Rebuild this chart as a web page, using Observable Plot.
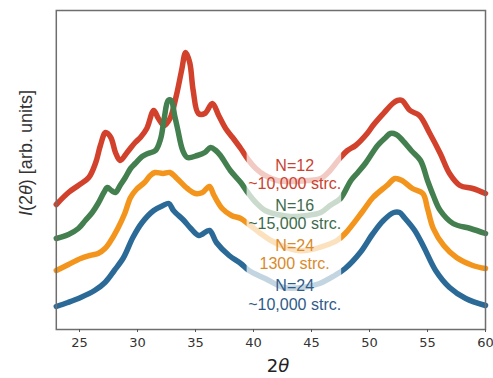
<!DOCTYPE html>
<html><head><meta charset="utf-8">
<script src="https://cdn.jsdelivr.net/npm/d3@7"></script>
<script src="https://cdn.jsdelivr.net/npm/@observablehq/plot@0.6"></script>
<style>body{margin:0;background:#fff}</style>
</head><body><div id="chart"></div>
<script>
// 2θ samples and intensities (arb. units, curves already vertically offset)
const redT = [23,24.05,24.9,25.8,26.4,26.8,27.25,27.7,28.1,28.5,29.1,29.8,30.25,30.8,31.4,31.8,32.3,32.8,33.35,33.8,34.15,34.5,34.8,35.25,35.8,36.45,37,37.6,38.2,38.9,39.6,40.2,41,42.05,43.2,44.6,45.8,46.6,47.5,48.1,48.8,49.8,50.3,51.2,52,52.4,52.8,53.5,54.3,55.2,56.1,56.9,57.8,58.9,60];
const redI = [125,137,144,152,167,184,197,192,177,169,177,187,192,201,219,211,204,211,234,259,277,267,239,216,216,226,214,201,192,181,169,161,154,149,148,149,151,159,172,179,184,196,204,216,226,229,229,219,214,196,176,156,144,141,136];
const greenT = [23,24.05,24.9,25.5,26.1,26.6,27.1,27.4,27.75,28.1,28.5,28.95,29.4,29.8,30.4,30.9,31.55,32,32.3,32.65,32.9,33.2,33.45,33.9,34.3,35.15,35.8,36.3,36.75,37.15,38,38.9,39.5,40.2,41,42.05,43.2,44.6,45.8,46.6,47.5,48.4,49,49.7,50.7,51.4,51.8,52.3,52.7,53.6,54.4,55,55.5,56.1,57.2,58.7,60];
const greenI = [91,95,101,109,117,126,137,142,139,137,144,152,161,166,173,176,179,191,211,229,229,214,201,179,172,174,177,182,179,174,159,147,137,127,119,115,113,114,117,124,131,149,157,167,184,192,196,195,191,179,169,149,134,119,106,101,96];
const orangeT = [23,24.05,25.1,25.9,26.6,27.2,27.6,28.3,28.9,29.4,29.9,30.6,31.1,31.5,32.2,32.8,33.4,34.3,35,35.6,36.2,36.6,37.3,38.1,38.9,39.6,40.5,41.5,42.6,43.8,45,46.2,47.2,47.9,49.4,50.3,51.5,52.2,52.8,53.7,54.6,55,55.5,56.4,57.5,58.9,60];
const orangeI = [59,65,71,74,76,81,87,101,116,132,140,147,154,157,156,157,151,141,136,137,143,134,121,114,111,105,97,89,83,79,80,84,89,96,118,132,144,151,149,141,136,121,101,84,72,64,61];
const blueT = [23,24,25.1,26.3,27.2,28,28.8,29.6,30.4,31.4,32.2,32.7,33.1,34,34.6,35.3,36.2,36.8,37.9,38.9,39.6,41,42.6,44.2,45.7,47,47.9,49.2,50.3,51.2,52.1,52.6,53,53.9,54.7,55.7,56.9,58.3,60];
const blueI = [23,27,32,39,47,59,72,92,107,119,124,126,119,109,101,94,99,87,74,66,59,51,42,42,46,54,61,77,96,109,117,117,112,99,82,59,42,31,24];

const xTicks = [25,30,35,40,45,50,55,60];
const labelLines = ["N=12","~10,000 strc.","N=16","~15,000 strc.","N=24","1300 strc.","N=24","~10,000 strc."];
const labelI = [164,146,124,106,84,66,44,25];
const labelSeries = ["red","red","green","green","orange","orange","blue","blue"];

const lineColor = {red:"#d1412c", green:"#437f4f", orange:"#f3951c", blue:"#2b6a97"};
const textColor = {red:"#c9432f", green:"#3d6b4b", orange:"#d98a2c", blue:"#2f5b88"};

const series = [
  ["red", redT, redI], ["green", greenT, greenI], ["orange", orangeT, orangeI], ["blue", blueT, blueI]
];
const lineData = series.flatMap(([s, T, I]) => T.map((t, i) => ({s, t, v: I[i]})));
const labels = labelLines.map((txt, i) => ({txt, s: labelSeries[i], t: 43.55, v: labelI[i]}));

const W = 493, H = 378;
const plot = Plot.plot({
  width: W, height: H,
  marginLeft: 55.8, marginRight: 8, marginTop: 10, marginBottom: 49,
  style: {fontFamily: "DejaVu Sans, sans-serif", fontSize: "13px", color: "#333", background: "#fff"},
  x: {domain: [23, 60]},
  y: {domain: [0, 319]},
  marks: [
    Plot.line(lineData, {x: "t", y: "v", z: "s", stroke: d => lineColor[d.s], strokeWidth: 5.5, curve: "catmull-rom", strokeLinejoin: "round", strokeLinecap: "round"}),
    Plot.rect([{a: 39.45, b: 47.6}], {x1: "a", x2: "b", fill: "white", fillOpacity: 0.72}),
    Plot.text(labels, {x: "t", y: "v", text: "txt", fill: d => textColor[d.s], fontSize: 16, fontFamily: "Liberation Sans, Arial, sans-serif"}),
    Plot.frame({stroke: "#6e6e6e", strokeWidth: 1.5}),
    Plot.axisX({ticks: xTicks, tickSize: 3, tickPadding: 5, label: null, fontSize: 13, stroke: "#555"}),
    Plot.axisY({ticks: [], label: null})
  ]
});
document.getElementById("chart").appendChild(plot);

const svg = d3.select(plot);
svg.append("text").attr("x", 278).attr("y", 372).attr("text-anchor", "middle")
  .style("font-family", "DejaVu Sans, sans-serif").style("font-size", "18px").style("fill", "#222")
  .call(t => { t.append("tspan").text("2"); t.append("tspan").style("font-style", "italic").text("θ"); });
svg.append("text").attr("transform", "translate(32,153) rotate(-90)").attr("text-anchor", "middle")
  .style("font-family", "Liberation Sans, Arial, sans-serif").style("font-size", "18px").style("fill", "#333")
  .call(t => {
    t.append("tspan").style("font-style", "italic").text("I");
    t.append("tspan").text("(2");
    t.append("tspan").style("font-style", "italic").text("θ");
    t.append("tspan").text(") [arb. units]");
  });
</script></body></html>
